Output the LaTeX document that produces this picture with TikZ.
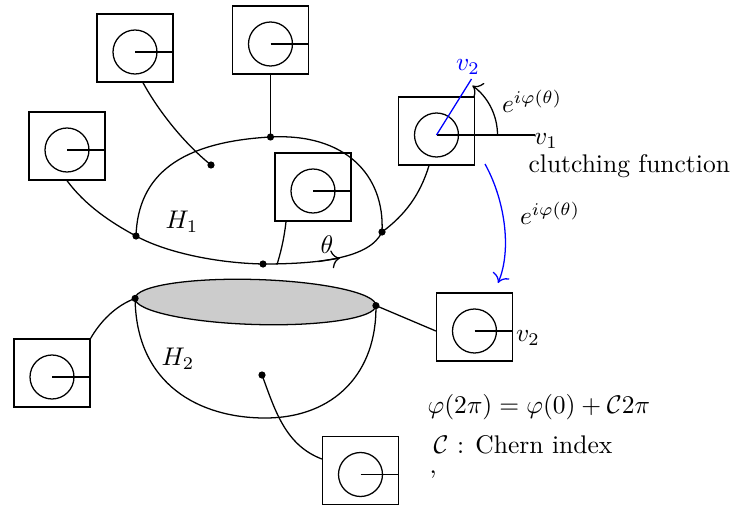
\documentclass[tikz,border=0pt]{standalone}
\usetikzlibrary{calc,arrows.meta}
\begin{document}
\begin{tikzpicture}[x=0.392pt,y=0.392pt,line width=0.5pt,
  >={To[scale=1.25]},
  fbox/.style={draw,minimum width=29.79pt,minimum height=26.66pt,inner sep=0pt},
  lab/.style={inner sep=0pt}]
\useasboundingbox (0,0) rectangle (731,-505);
\newcommand\fibrebox[3]{%
  \node[fbox] (#1) at (#2,-#3) {};
  \coordinate (#1c) at (#2,-#3-4);
  \draw (#1c) circle[radius=22];
}
% fibre boxes
\fibrebox{A}{135}{48}
\fibrebox{B}{270.5}{40}
\fibrebox{C}{67}{146}
\fibrebox{D}{313}{187}
\fibrebox{E}{436.5}{131}
\fibrebox{F}{474.5}{327}
\fibrebox{G}{52}{373}
\fibrebox{H}{360.5}{470.5}
\foreach \n in {A,B,C,D,F,G,H} {\draw (\n c) -- (\n c -| \n.east);}
% points
\coordinate (L) at (136,-236);
\coordinate (T) at (270.5,-137);
\coordinate (R) at (382,-232);
\coordinate (Bt) at (263,-264);
\coordinate (I1) at (211,-165);
\coordinate (EL) at (135.1,-298.4);
\coordinate (ER) at (375.9,-305.6);
\coordinate (I2) at (262,-375);
\coordinate (Dfoot) at (277,-264.5);
\coordinate (v1end) at (535,-135);
% upper hemisphere H1
\draw (L) .. controls (138,-175) and (180,-142) .. (T)
          .. controls (345,-133) and (385,-175) .. (R)
          .. controls (370,-258) and (320,-264) .. (Bt)
          .. controls (215,-263) and (165,-252) .. (L);
\coordinate (th1) at (318,-261.6);
\coordinate (th2) at (340,-258.1);
\draw[->] (th1) -- (th2);
% lower hemisphere H2
\draw (EL) .. controls (136,-385) and (200,-418) .. (265,-418)
           .. controls (335,-418) and (377,-372) .. (ER);
\draw[fill=black!20, rotate around={-1.7:(255.5,-302)}] (255.5,-302) ellipse[x radius=120.5, y radius=22.5];
% connectors
\draw ($(A.south)+(8,0)$) .. controls (155,-105) and (180,-140) .. (I1);
\draw (B.south) -- (T);
\draw (C.south) .. controls (85,-205) and (110,-222) .. (L);
\draw ($(D.south)+(-27,0)$) .. controls (284,-240) and (280,-255) .. (Dfoot);
\draw ($(E.south)+(-7.5,0)$) .. controls (420,-195) and (405,-215) .. (R);
\draw (G.north east) .. controls (100,-322) and (115,-306) .. (EL);
\draw (ER) -- (Fc -| F.west);
\draw (I2) .. controls (275,-410) and (285,-445) .. ($(H.west)+(0,11.5)$);
% dots
\foreach \p in {L,T,R,Bt,I1,EL,ER,I2} {\fill (\p) circle[radius=3.6];}
% clutching at E
\draw (Ec) -- (v1end);
\draw[blue] (Ec) -- ++(58:66) coordinate (v2end);
\draw[->] ($(Ec)+(61,0)$) arc[start angle=0, end angle=54, radius=61];
\coordinate (ba1) at (485,-164);
\coordinate (ba2) at (498,-283);
\draw[blue,->] (ba1) .. controls (505,-200) and (512,-250) .. (ba2);
% labels
\node[text=blue] (lv2a) at (468,-67) {$v_2$};
\node (lv1) at (546,-141) {$v_1$};
\node (lephi1) at (532,-101) {$e^{i\varphi(\theta)}$};
\node[anchor=west,lab] (lclutch) at (528,-166) {clutching function};
\node (lephi2) at (550,-213) {$e^{i\varphi(\theta)}$};
\node (lth) at (327,-245) {$\theta$};
\node (lH1) at (182,-222) {$H_1$};
\node (lH2) at (178,-359) {$H_2$};
\node (lv2b) at (528,-338) {$v_2$};
\node[anchor=west,lab] (leq) at (427,-407) {$\varphi(2\pi)=\varphi(0)+\mathcal{C}2\pi$};
\node[anchor=west,lab] (lchern) at (433,-445) {$\mathcal{C}$ : Chern index};
\node[anchor=west,lab] (lcomma) at (429,-475) {,};
\end{tikzpicture}
\end{document}
